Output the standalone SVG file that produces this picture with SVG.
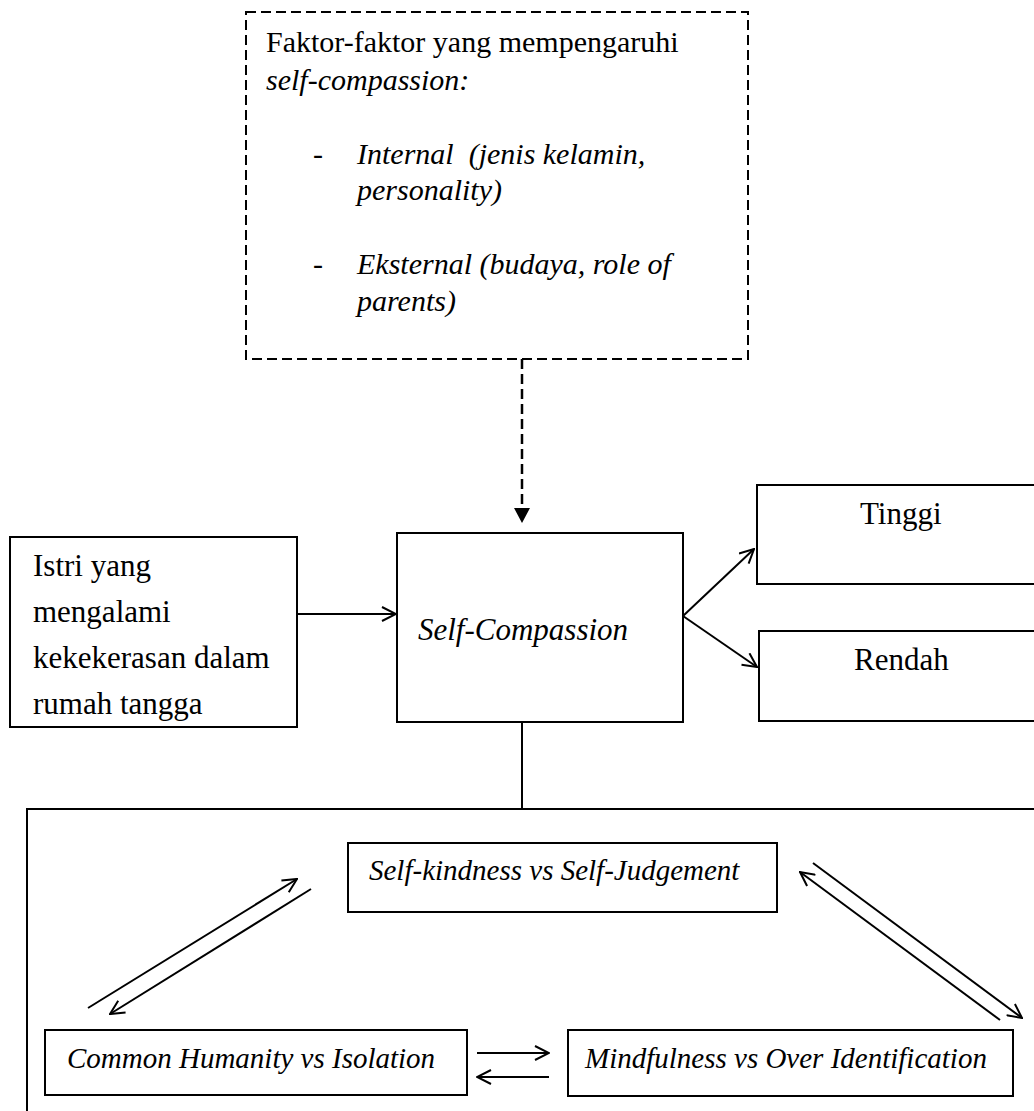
<svg xmlns="http://www.w3.org/2000/svg" width="1034" height="1111" viewBox="0 0 1034 1111">
<style>
.box{fill:#fff;stroke:#000;stroke-width:2}
.dbox{fill:#fff;stroke:#000;stroke-width:2;stroke-dasharray:10 5}
.t{font-family:"Liberation Serif","Times New Roman",serif;fill:#000}
.i{font-style:italic}
.c{fill:none;stroke:#000;stroke-width:2}
.d{fill:none;stroke:#000;stroke-width:2.5;stroke-dasharray:10 5}
</style>
<defs>
<marker id="open" viewBox="0 0 16 16" refX="15" refY="8" markerWidth="16" markerHeight="16" markerUnits="userSpaceOnUse" orient="auto">
<path d="M1,1 L15,8 L1,15" fill="none" stroke="#000" stroke-width="2"/>
</marker>
<marker id="solid" viewBox="0 0 16 16" refX="15" refY="8" markerWidth="16" markerHeight="16" markerUnits="userSpaceOnUse" orient="auto">
<path d="M0,0 L15,8 L0,16 Z" fill="#000"/>
</marker>
</defs>
<rect width="1034" height="1111" fill="#fff"/>

<g id="faktor">
<rect class="dbox" x="246" y="12" width="502" height="347"/>
<text class="t" font-size="30" x="266" y="52">Faktor-faktor yang mempengaruhi</text>
<text class="t i" font-size="30" x="266" y="90">self-compassion:</text>
<text class="t" font-size="30" x="313" y="164">-</text>
<text class="t i" font-size="30" x="357" y="164" xml:space="preserve" style="white-space:pre">Internal  (jenis kelamin,</text>
<text class="t i" font-size="30" x="357" y="200">personality)</text>
<text class="t" font-size="30" x="313" y="274">-</text>
<text class="t i" font-size="30" x="357" y="274">Eksternal (budaya, role of</text>
<text class="t i" font-size="30" x="357" y="311">parents)</text>
</g>

<g id="istri">
<rect class="box" x="10" y="537" width="287" height="190"/>
<text class="t" font-size="31" x="33" y="576">Istri yang</text>
<text class="t" font-size="31" x="33" y="622">mengalami</text>
<text class="t" font-size="31" x="33" y="668">kekekerasan dalam</text>
<text class="t" font-size="31" x="33" y="714">rumah tangga</text>
</g>

<g id="selfcompassion">
<rect class="box" x="397" y="533" width="286" height="189"/>
<text class="t i" font-size="31" x="418" y="640">Self-Compassion</text>
</g>

<g id="tinggi">
<rect class="box" x="757" y="485" width="300" height="99"/>
<text class="t" font-size="31" x="860" y="524">Tinggi</text>
</g>

<g id="rendah">
<rect class="box" x="759" y="631" width="300" height="90"/>
<text class="t" font-size="31" x="854" y="670">Rendah</text>
</g>

<g id="dimensi">
<rect class="box" x="27" y="809" width="1030" height="320"/>
</g>

<g id="selfkindness">
<rect class="box" x="348" y="843" width="429" height="69"/>
<text class="t i" font-size="29" x="369" y="880">Self-kindness vs Self-Judgement</text>
</g>

<g id="commonhumanity">
<rect class="box" x="45" y="1030" width="422" height="65"/>
<text class="t i" font-size="29" x="67" y="1068">Common Humanity vs Isolation</text>
</g>

<g id="mindfulness">
<rect class="box" x="568" y="1030" width="445" height="66"/>
<text class="t i" font-size="29" x="585" y="1068">Mindfulness vs Over Identification</text>
</g>

<g id="connectors">
<line class="d" x1="522" y1="359" x2="522" y2="523" marker-end="url(#solid)"/>
<line class="c" x1="297" y1="614" x2="396" y2="614" marker-end="url(#open)"/>
<line class="c" x1="683" y1="616" x2="754" y2="549" marker-end="url(#open)"/>
<line class="c" x1="683" y1="616" x2="757" y2="667" marker-end="url(#open)"/>
<line class="c" x1="522" y1="722" x2="522" y2="809"/>
<line class="c" x1="88" y1="1008" x2="297" y2="879" marker-end="url(#open)"/>
<line class="c" x1="311" y1="889" x2="110" y2="1014" marker-end="url(#open)"/>
<line class="c" x1="1000" y1="1020" x2="800" y2="872" marker-end="url(#open)"/>
<line class="c" x1="813" y1="863" x2="1022" y2="1018" marker-end="url(#open)"/>
<line class="c" x1="477" y1="1053" x2="549" y2="1053" marker-end="url(#open)"/>
<line class="c" x1="549" y1="1077" x2="477" y2="1077" marker-end="url(#open)"/>
</g>
</svg>
